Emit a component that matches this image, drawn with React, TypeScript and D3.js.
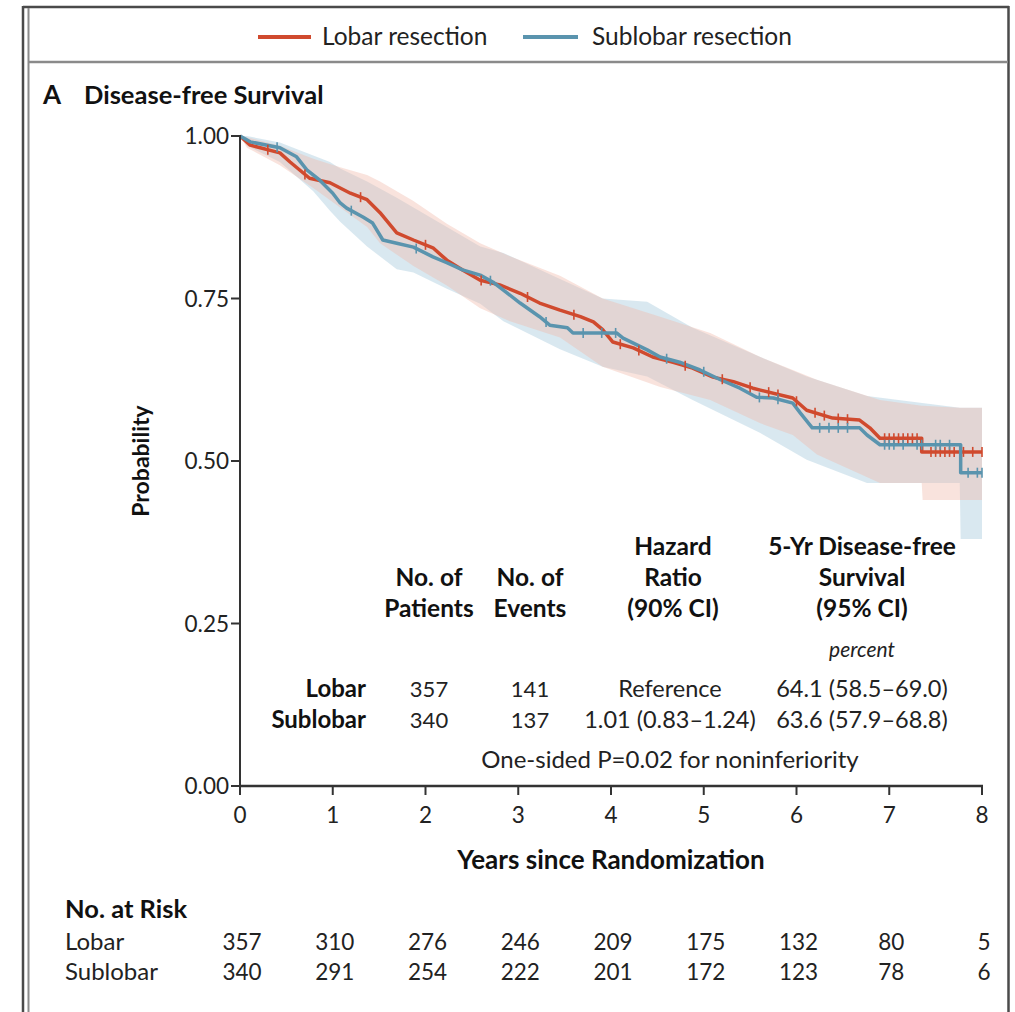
import React from 'react';
import * as d3 from 'd3';

// ---- Data ----
const lobarT = [0, 0.11, 0.43, 0.54, 0.75, 0.97, 1.19, 1.37, 1.51, 1.69, 1.87, 2.08, 2.23, 2.40, 2.59, 2.80, 3.02, 3.23, 3.45, 3.67, 3.81, 3.91, 4.02, 4.24, 4.45, 4.67, 4.88, 5.10, 5.32, 5.53, 5.61, 5.96, 6.11, 6.39, 6.68, 6.79, 6.90, 7.35, 7.35, 8.0];
const lobarS = [1.0, 0.986, 0.974, 0.960, 0.935, 0.928, 0.912, 0.902, 0.882, 0.851, 0.840, 0.828, 0.809, 0.794, 0.778, 0.771, 0.758, 0.743, 0.732, 0.722, 0.714, 0.702, 0.683, 0.674, 0.660, 0.652, 0.643, 0.629, 0.622, 0.612, 0.609, 0.597, 0.578, 0.566, 0.563, 0.551, 0.535, 0.535, 0.514, 0.514];

const sublobarT = [0, 0.11, 0.43, 0.61, 0.72, 0.86, 1.00, 1.08, 1.15, 1.33, 1.43, 1.54, 1.69, 1.87, 2.08, 2.23, 2.40, 2.59, 2.73, 2.84, 3.02, 3.23, 3.34, 3.53, 3.59, 4.06, 4.13, 4.39, 4.53, 4.74, 4.96, 5.18, 5.39, 5.57, 5.75, 5.96, 6.04, 6.17, 6.68, 6.76, 6.90, 7.77, 7.77, 8.0];
const sublobarS = [1.0, 0.991, 0.982, 0.968, 0.948, 0.932, 0.912, 0.897, 0.889, 0.875, 0.866, 0.840, 0.835, 0.829, 0.814, 0.805, 0.794, 0.786, 0.775, 0.763, 0.743, 0.722, 0.709, 0.705, 0.697, 0.697, 0.689, 0.671, 0.660, 0.652, 0.640, 0.625, 0.612, 0.598, 0.597, 0.589, 0.574, 0.551, 0.551, 0.540, 0.525, 0.525, 0.482, 0.482];

const lobarCiT = [0, 0.075, 0.43, 0.79, 1.08, 1.37, 1.51, 1.87, 2.23, 2.59, 2.91, 3.45, 3.91, 4.53, 5.07, 5.61, 5.96, 6.22, 6.90, 7.35, 7.36, 7.76, 8.0];
const lobarLo = [1.0, 0.982, 0.955, 0.920, 0.890, 0.860, 0.835, 0.800, 0.770, 0.735, 0.715, 0.690, 0.645, 0.614, 0.594, 0.558, 0.540, 0.510, 0.466, 0.466, 0.440, 0.440, 0.440];
const lobarHi = [1.0, 0.998, 0.985, 0.965, 0.952, 0.940, 0.930, 0.900, 0.865, 0.835, 0.815, 0.785, 0.750, 0.722, 0.697, 0.660, 0.640, 0.625, 0.594, 0.585, 0.585, 0.582, 0.582];

const sublobarCiT = [0, 0.075, 0.43, 0.79, 0.97, 1.08, 1.37, 1.69, 1.87, 2.23, 2.59, 2.84, 3.45, 3.91, 4.39, 4.88, 5.61, 6.11, 6.76, 7.76, 7.77, 8.0];
const sublobarLo = [1.0, 0.985, 0.960, 0.915, 0.885, 0.868, 0.830, 0.795, 0.790, 0.765, 0.742, 0.715, 0.672, 0.645, 0.630, 0.594, 0.543, 0.502, 0.466, 0.466, 0.380, 0.380];
const sublobarHi = [1.0, 1.0, 0.990, 0.970, 0.960, 0.950, 0.930, 0.905, 0.890, 0.860, 0.830, 0.820, 0.780, 0.750, 0.745, 0.705, 0.660, 0.630, 0.600, 0.582, 0.582, 0.582];

const lobarCensor = [0.3, 0.7, 1.3, 2.0, 2.6, 3.1, 3.6, 4.1, 4.3, 4.8, 5.2, 5.5, 5.7, 5.8, 6.0, 6.2, 6.3, 6.45, 6.55, 6.95, 7.0, 7.05, 7.1, 7.15, 7.2, 7.25, 7.3, 7.45, 7.5, 7.55, 7.6, 7.65, 7.7, 7.8, 7.9, 8.0];
const sublobarCensor = [0.4, 1.2, 1.9, 2.7, 3.3, 3.7, 3.9, 4.05, 4.6, 5.0, 5.6, 5.8, 6.25, 6.35, 6.45, 6.55, 6.95, 7.0, 7.05, 7.15, 7.3, 7.35, 7.5, 7.55, 7.65, 7.85, 7.95, 8.0];

const xTicks = [0, 1, 2, 3, 4, 5, 6, 7, 8];
const yTicks = [0, 0.25, 0.5, 0.75, 1.0];
const riskLobar = [357, 310, 276, 246, 209, 175, 132, 80, 5];
const riskSublobar = [340, 291, 254, 222, 201, 172, 123, 78, 6];

const RED = '#d04a2e';
const BLUE = '#5a94ae';

const FONT = 'Lato, "Open Sans", sans-serif';

export default function App() {
  const x = d3.scaleLinear().domain([0, 8]).range([240, 982]);
  const y = d3.scaleLinear().domain([0, 1]).range([786, 136]);

  const line = d3.line<[number, number]>().x(d => x(d[0])).y(d => y(d[1])).curve(d3.curveLinear);
  const area = d3.area<[number, number, number]>()
    .x(d => x(d[0])).y0(d => y(d[1])).y1(d => y(d[2])).curve(d3.curveLinear);

  const lobarPts = lobarT.map((t, i) => [t, lobarS[i]] as [number, number]);
  const subPts = sublobarT.map((t, i) => [t, sublobarS[i]] as [number, number]);
  const lobarBand = lobarCiT.map((t, i) => [t, lobarLo[i], lobarHi[i]] as [number, number, number]);
  const subBand = sublobarCiT.map((t, i) => [t, sublobarLo[i], sublobarHi[i]] as [number, number, number]);

  // y position of the curve at time t (linear between read points)
  const sAt = (T: number[], S: number[], t: number) => {
    let j = 0;
    while (j < T.length - 1 && T[j + 1] < t) j++;
    if (j >= T.length - 1) return S[S.length - 1];
    const t0 = T[j], t1 = T[j + 1];
    if (t1 === t0) return S[j + 1];
    return S[j] + (S[j + 1] - S[j]) * (t - t0) / (t1 - t0);
  };

  const tableRows = [
    { name: 'Lobar', n: '357', ev: '141', hr: 'Reference', dfs: '64.1 (58.5\u201369.0)' },
    { name: 'Sublobar', n: '340', ev: '137', hr: '1.01 (0.83\u20131.24)', dfs: '63.6 (57.9\u201368.8)' },
  ];

  return (
    <svg width={1015} height={1012} style={{ position: 'absolute', left: 0, top: 0, background: '#fff' }}>
      <rect x={0} y={0} width={1015} height={1012} fill="#fff" />
      {/* frame */}
      <line x1={23} y1={7} x2={1009} y2={7} stroke="#4a4a4a" strokeWidth={2.5} />
      <line x1={23} y1={6} x2={23} y2={1012} stroke="#4a4a4a" strokeWidth={2.5} />
      <line x1={28.5} y1={8} x2={28.5} y2={1012} stroke="#8a8a8a" strokeWidth={2} />
      <line x1={1008.5} y1={6} x2={1008.5} y2={1012} stroke="#4a4a4a" strokeWidth={2.5} />
      <line x1={29} y1={62} x2={1008} y2={62} stroke="#8a8a8a" strokeWidth={2.5} />

      {/* legend */}
      <line x1={258} y1={37} x2={311} y2={37} stroke={RED} strokeWidth={4} />
      <text x={322} y={45} fontFamily={FONT} fontSize={24.5} fill="#222">Lobar resection</text>
      <line x1={523} y1={37} x2={578} y2={37} stroke={BLUE} strokeWidth={4} />
      <text x={592} y={45} fontFamily={FONT} fontSize={24.5} fill="#222">Sublobar resection</text>

      {/* panel title */}
      <text x={43} y={104} fontFamily={FONT} fontWeight={700} fontSize={26} fill="#111">A</text>
      <text x={84} y={104} fontFamily={FONT} fontWeight={700} fontSize={25.5} fill="#111">Disease-free Survival</text>

      {/* bands */}
      <path d={area(subBand) || ''} fill="#b0cfdf" fillOpacity={0.48} />
      <path d={area(lobarBand) || ''} fill="#f1b9aa" fillOpacity={0.4} />

      {/* curves */}
      <path d={line(lobarPts) || ''} fill="none" stroke={RED} strokeWidth={3.5} strokeLinejoin="round" />
      <path d={line(subPts) || ''} fill="none" stroke={BLUE} strokeWidth={3.5} strokeLinejoin="round" />
      {lobarCensor.map((t, i) => {
        const yy = y(sAt(lobarT, lobarS, t));
        return <line key={'lc' + i} x1={x(t)} x2={x(t)} y1={yy - 5} y2={yy + 5} stroke={RED} strokeWidth={1.6} />;
      })}
      {sublobarCensor.map((t, i) => {
        const yy = y(sAt(sublobarT, sublobarS, t));
        return <line key={'sc' + i} x1={x(t)} x2={x(t)} y1={yy - 5} y2={yy + 5} stroke={BLUE} strokeWidth={1.6} />;
      })}

      {/* axes */}
      <line x1={240} y1={135} x2={240} y2={787} stroke="#333" strokeWidth={2} />
      <line x1={239} y1={786} x2={983} y2={786} stroke="#333" strokeWidth={2.5} />
      {yTicks.map(t => (
        <g key={'yt' + t}>
          <line x1={231} x2={240} y1={y(t)} y2={y(t)} stroke="#333" strokeWidth={2} />
          <text x={229} y={y(t) + 8} textAnchor="end" fontFamily={FONT} fontSize={22.5} fill="#222">{t.toFixed(2)}</text>
        </g>
      ))}
      {xTicks.map(t => (
        <g key={'xt' + t}>
          <line x1={x(t)} x2={x(t)} y1={786} y2={795} stroke="#333" strokeWidth={2} />
          <text x={x(t)} y={823} textAnchor="middle" fontFamily={FONT} fontSize={22.5} fill="#222">{t}</text>
        </g>
      ))}
      <text x={611} y={869} textAnchor="middle" fontFamily={FONT} fontWeight={700} fontSize={26} fill="#111">Years since Randomization</text>
      <text transform="translate(149,461) rotate(-90)" textAnchor="middle" fontFamily={FONT} fontWeight={700} fontSize={23} fill="#111">Probability</text>

      {/* inset table */}
      <g fontFamily={FONT} fontWeight={700} fontSize={24.5} fill="#111" textAnchor="middle">
        <text x={673} y={555}>Hazard</text>
        <text x={673} y={586}>Ratio</text>
        <text x={673} y={617}>(90% CI)</text>
        <text x={862} y={555}>5-Yr Disease-free</text>
        <text x={862} y={586}>Survival</text>
        <text x={862} y={617}>(95% CI)</text>
        <text x={429} y={586}>No. of</text>
        <text x={429} y={617}>Patients</text>
        <text x={530} y={586}>No. of</text>
        <text x={530} y={617}>Events</text>
      </g>
      <text x={862} y={657} textAnchor="middle" fontFamily={FONT} fontStyle="italic" fontSize={21} fill="#222">percent</text>
      {tableRows.map((r, i) => {
        const yy = 697 + i * 31;
        return (
          <g key={'tr' + i} fill="#222">
            <text x={366} y={yy} textAnchor="end" fontFamily={FONT} fontWeight={700} fontSize={24} fill="#111">{r.name}</text>
            <text x={429} y={yy} textAnchor="middle" fontFamily={FONT} fontSize={22}>{r.n}</text>
            <text x={530} y={yy} textAnchor="middle" fontFamily={FONT} fontSize={22}>{r.ev}</text>
            <text x={670} y={yy} textAnchor="middle" fontFamily={FONT} fontSize={23.5}>{r.hr}</text>
            <text x={862} y={yy} textAnchor="middle" fontFamily={FONT} fontSize={23.5}>{r.dfs}</text>
          </g>
        );
      })}
      <text x={670} y={768} textAnchor="middle" fontFamily={FONT} fontSize={24} fill="#222">One-sided P=0.02 for noninferiority</text>

      {/* risk table */}
      <text x={65} y={918} fontFamily={FONT} fontWeight={700} fontSize={25.5} fill="#111">No. at Risk</text>
      <text x={65} y={950} fontFamily={FONT} fontSize={24} fill="#222">Lobar</text>
      <text x={65} y={980} fontFamily={FONT} fontSize={24} fill="#222">Sublobar</text>
      {riskLobar.map((v, i) => (
        <text key={'rl' + i} x={x(xTicks[i]) + 2} y={950} textAnchor="middle" fontFamily={FONT} fontSize={22.5} fill="#222">{v}</text>
      ))}
      {riskSublobar.map((v, i) => (
        <text key={'rs' + i} x={x(xTicks[i]) + 2} y={980} textAnchor="middle" fontFamily={FONT} fontSize={22.5} fill="#222">{v}</text>
      ))}
    </svg>
  );
}
